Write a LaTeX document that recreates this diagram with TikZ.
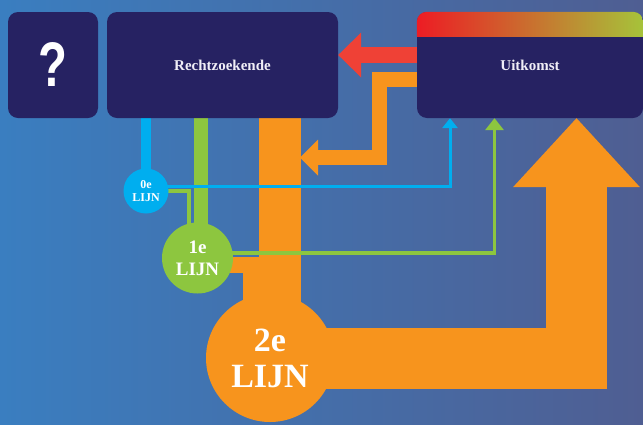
\documentclass[tikz,border=0pt]{standalone}
\usepackage{fontspec}
\setmainfont{Liberation Serif}
\newfontfamily\vraagfont{Liberation Sans}
\usetikzlibrary{arrows.meta}
\definecolor{navy}{HTML}{262262}
\definecolor{bgleft}{HTML}{3A7EC0}
\definecolor{bgright}{HTML}{4F5E92}
\definecolor{lijnnul}{HTML}{00AEEF}
\definecolor{lijneen}{HTML}{8DC63F}
\definecolor{lijntwee}{HTML}{F7941D}
\definecolor{pijlrood}{HTML}{EF4136}
\definecolor{koprood}{HTML}{ED1C24}
\definecolor{kopmidden}{HTML}{DB5F2A}
\definecolor{kopgroen}{HTML}{A6C33A}
\definecolor{bloktekst}{HTML}{F0EEF7}
\pgfdeclarelayer{achter}
\pgfdeclarelayer{lijnen}
\pgfsetlayers{achter,lijnen,main}

\begin{document}
\begin{tikzpicture}[x=1pt,y=-1pt,
  blok/.style={fill=navy,rounded corners=10pt,inner sep=0pt,text=bloktekst,
    font=\bfseries\fontsize{15}{16}\selectfont},
  rondje/.style={circle,inner sep=0pt,text=white,align=center}]
\useasboundingbox (0,0) rectangle (643,424);
% achtergrond met verloop
\begin{pgfonlayer}{achter}
\fill[left color=bgleft,right color=bgright] (0,0) rectangle (643,424);
\end{pgfonlayer}
% blokken bovenaan
\node[blok,text=white,minimum width=90pt,minimum height=106pt] (vraag) at (53,65)
  {\vraagfont\fontsize{63}{63}\selectfont\scalebox{0.75}[1]{?}};
\node[blok,minimum width=231pt,minimum height=106pt] (recht) at (222.5,65) {Rechtzoekende};
\node[blok,minimum width=226pt,minimum height=106pt] (uitk) at (530,65) {Uitkomst};
% gekleurde kop van Uitkomst
\begin{scope}
\clip[rounded corners=10pt] (uitk.north west) rectangle (uitk.south east);
\shade[left color=koprood,middle color=kopmidden,right color=kopgroen]
  (uitk.north west) rectangle ([yshift=-25pt]uitk.north east);
\end{scope}
% de drie lijnen
\node[rondje,fill=lijnnul,minimum size=45pt,font=\bfseries\fontsize{12}{13}\selectfont] (nul) at (146,191) {0e\\LIJN};
\node[rondje,fill=lijneen,minimum size=71pt,font=\bfseries\fontsize{19}{22}\selectfont] (een) at (197.5,258) {1e\\LIJN};
\node[rondje,fill=lijntwee,minimum size=128pt,font=\bfseries\fontsize{34}{36}\selectfont] (twee) at (270,358) {2e\\LIJN};
% hulppunten
\coordinate (balktwee) at ([xshift=10pt]twee.center);
\coordinate (balkeen) at ([xshift=3.5pt]een.center);
\coordinate (roodstart) at ([yshift=10pt]uitk.west);
\coordinate (instroom) at (300,157.5);
\coordinate (nulpijl) at ([xshift=-80pt]uitk.south);
\coordinate (eenpijl) at ([xshift=-35.5pt]uitk.south);
\begin{pgfonlayer}{lijnen}
% balken van Rechtzoekende naar de lijnen
\draw[lijntwee,line width=42pt] (balktwee) -- (balktwee |- recht.south);
\draw[lijntwee,line width=16pt] ([yshift=-7pt]een.center) -| ([xshift=-19.5pt]twee.center);
\draw[lijneen,line width=14pt] (balkeen) -- (balkeen |- recht.south);
\draw[lijneen,line width=4pt] (nul.center) -| ([xshift=-8.5pt]een.center);
\draw[lijnnul,line width=10pt] (nul.center) -- (nul.center |- recht.south);
% grote pijl van 2e lijn naar Uitkomst
\draw[lijntwee,line width=61pt,-{Triangle[length=69pt,width=127pt,line width=0pt]}]
  (twee.center) -| ([xshift=46.5pt]uitk.south);
% pijlen terug van Uitkomst
\draw[lijntwee,line width=15pt,-{Triangle[length=18pt,width=36pt,line width=0pt]}]
  ([yshift=-14.5pt]uitk.west) -- ++(-37.5,0) |- (instroom);
\draw[pijlrood,line width=16pt,-{Triangle[length=23pt,width=45pt,line width=0pt]}]
  (roodstart) -- (roodstart -| recht.east);
% dunne lijnen naar Uitkomst
\draw[lijneen,line width=3.5pt,-{Triangle[length=12pt,width=19pt,line width=0pt]}]
  ([yshift=5pt]een.center) -| (eenpijl);
\draw[lijnnul,line width=3pt,-{Triangle[length=10pt,width=16pt,line width=0pt]}]
  ([yshift=5pt]nul.center) -| (nulpijl);
\end{pgfonlayer}
\end{tikzpicture}
\end{document}
